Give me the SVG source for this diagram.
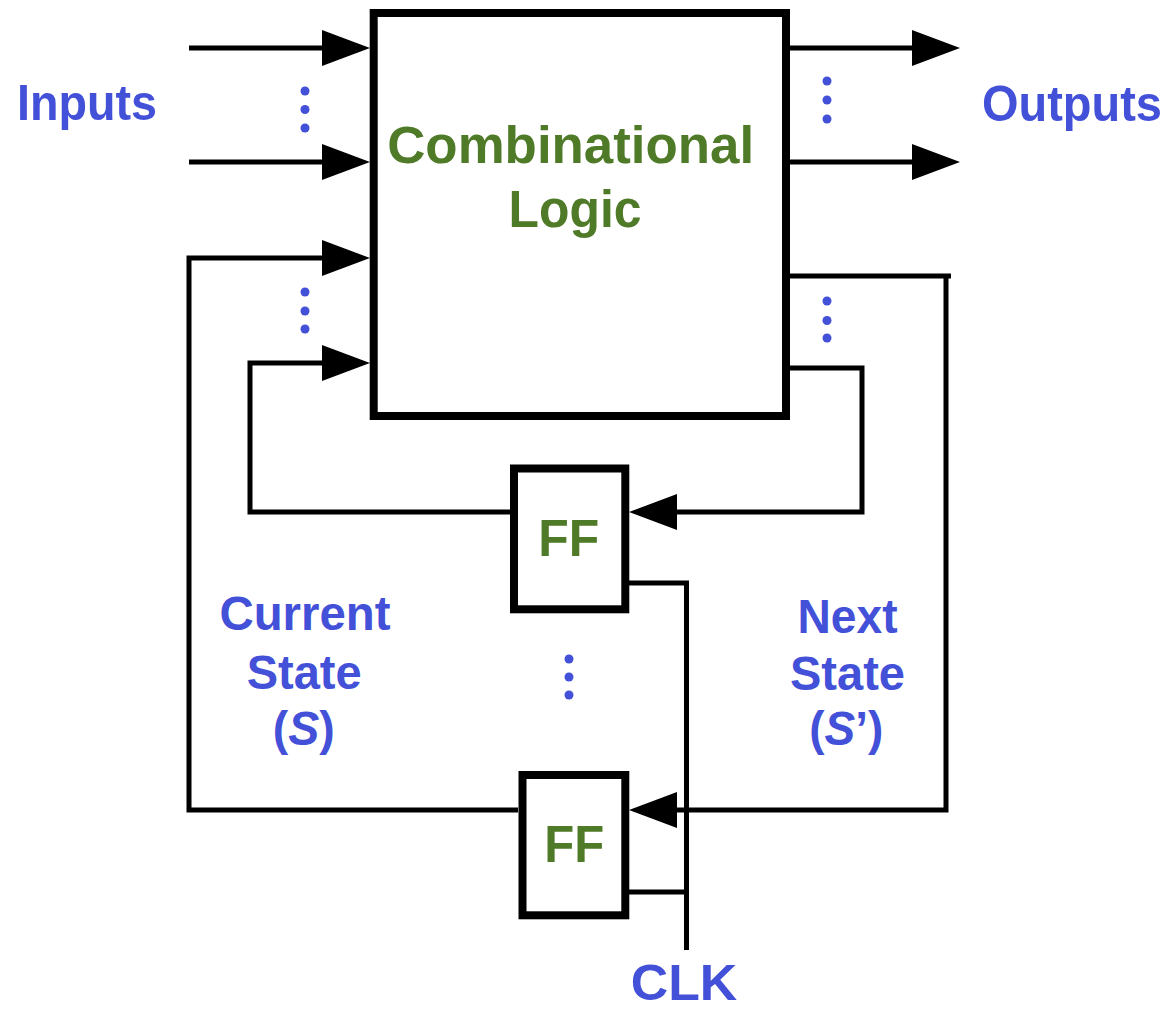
<svg xmlns="http://www.w3.org/2000/svg" width="1172" height="1011" viewBox="0 0 1172 1011">
<style>
.box{fill:#fff;stroke:#000;stroke-width:8}
.w{fill:none;stroke:#000;stroke-width:5;stroke-linejoin:miter}
.g{fill:#4f7a28;font-family:"Liberation Sans",Arial,sans-serif;font-weight:bold}
.b{fill:#4350d8;font-family:"Liberation Sans",Arial,sans-serif;font-weight:bold}
.d{fill:#4350d8}
</style>
<defs>
<marker id="ah" markerUnits="userSpaceOnUse" markerWidth="48" markerHeight="36" refX="10" refY="18" orient="auto" overflow="visible">
<path d="M0,0 L48,18 L0,36 z" fill="#000"/>
</marker>
</defs>
<rect width="1172" height="1011" fill="#fff"/>
<g id="connectors">
<path class="w" d="M189,48 L332,48" marker-end="url(#ah)"/>
<path class="w" d="M189,162 L332,162" marker-end="url(#ah)"/>
<path class="w" d="M518,810 L189,810 L189,258 L332,258" marker-end="url(#ah)"/>
<path class="w" d="M514,512 L250,512 L250,363 L332,363" marker-end="url(#ah)"/>
<path class="w" d="M786,48 L922,48" marker-end="url(#ah)"/>
<path class="w" d="M786,162 L922,162" marker-end="url(#ah)"/>
<path class="w" d="M786,276 L951,276"/>
<path class="w" d="M946,276 L946,810 L667,810" marker-end="url(#ah)"/>
<path class="w" d="M786,368 L862,368 L862,512 L667,512" marker-end="url(#ah)"/>
<path class="w" d="M629,583 L686.5,583 L686.5,950"/>
<path class="w" d="M629,892 L686.5,892"/>
</g>
<g id="comb">
<rect class="box" x="373.7" y="13" width="412.3" height="403"/>
<text class="g" font-size="51" x="570.7" y="163.3" text-anchor="middle" textLength="367" lengthAdjust="spacingAndGlyphs">Combinational</text>
<text class="g" font-size="51" x="575" y="226.7" text-anchor="middle" textLength="133" lengthAdjust="spacingAndGlyphs">Logic</text>
</g>
<g id="ff1">
<rect class="box" x="514" y="468.5" width="111.3" height="140.8"/>
<text class="g" font-size="52" x="568.7" y="555.5" text-anchor="middle" textLength="61" lengthAdjust="spacingAndGlyphs">FF</text>
</g>
<g id="ff2">
<rect class="box" x="522.5" y="775" width="102.8" height="140.3"/>
<text class="g" font-size="52" x="574.3" y="861.7" text-anchor="middle" textLength="60" lengthAdjust="spacingAndGlyphs">FF</text>
</g>
<g id="labels">
<text class="b" font-size="50" x="17" y="120" textLength="140" lengthAdjust="spacingAndGlyphs">Inputs</text>
<text class="b" font-size="50" x="982" y="121" textLength="180" lengthAdjust="spacingAndGlyphs">Outputs</text>
<text class="b" font-size="48" x="305" y="630" text-anchor="middle" textLength="171" lengthAdjust="spacingAndGlyphs">Current</text>
<text class="b" font-size="48" x="304.2" y="689.3" text-anchor="middle" textLength="115" lengthAdjust="spacingAndGlyphs">State</text>
<text class="b" font-size="48" x="303.8" y="745" text-anchor="middle" textLength="62" lengthAdjust="spacingAndGlyphs">(<tspan font-style="italic">S</tspan>)</text>
<text class="b" font-size="48" x="847.5" y="632.7" text-anchor="middle" textLength="100" lengthAdjust="spacingAndGlyphs">Next</text>
<text class="b" font-size="48" x="847.5" y="690" text-anchor="middle" textLength="115" lengthAdjust="spacingAndGlyphs">State</text>
<text class="b" font-size="48" x="846.3" y="745" text-anchor="middle" textLength="74" lengthAdjust="spacingAndGlyphs">(<tspan font-style="italic">S</tspan>’)</text>
<text class="b" font-size="50" x="630.7" y="1000" textLength="106.6" lengthAdjust="spacingAndGlyphs">CLK</text>
</g>
<g id="dots">
<circle class="d" cx="305" cy="91" r="4.5"/><circle class="d" cx="305" cy="109.5" r="4.5"/><circle class="d" cx="305" cy="128" r="4.5"/>
<circle class="d" cx="305" cy="292" r="4.5"/><circle class="d" cx="305" cy="311" r="4.5"/><circle class="d" cx="305" cy="329" r="4.5"/>
<circle class="d" cx="827" cy="81" r="4.5"/><circle class="d" cx="827" cy="100" r="4.5"/><circle class="d" cx="827" cy="119" r="4.5"/>
<circle class="d" cx="827" cy="301" r="4.5"/><circle class="d" cx="827" cy="320.5" r="4.5"/><circle class="d" cx="827" cy="338" r="4.5"/>
<circle class="d" cx="569" cy="659" r="4.5"/><circle class="d" cx="569" cy="677" r="4.5"/><circle class="d" cx="569" cy="695" r="4.5"/>
</g>
</svg>
